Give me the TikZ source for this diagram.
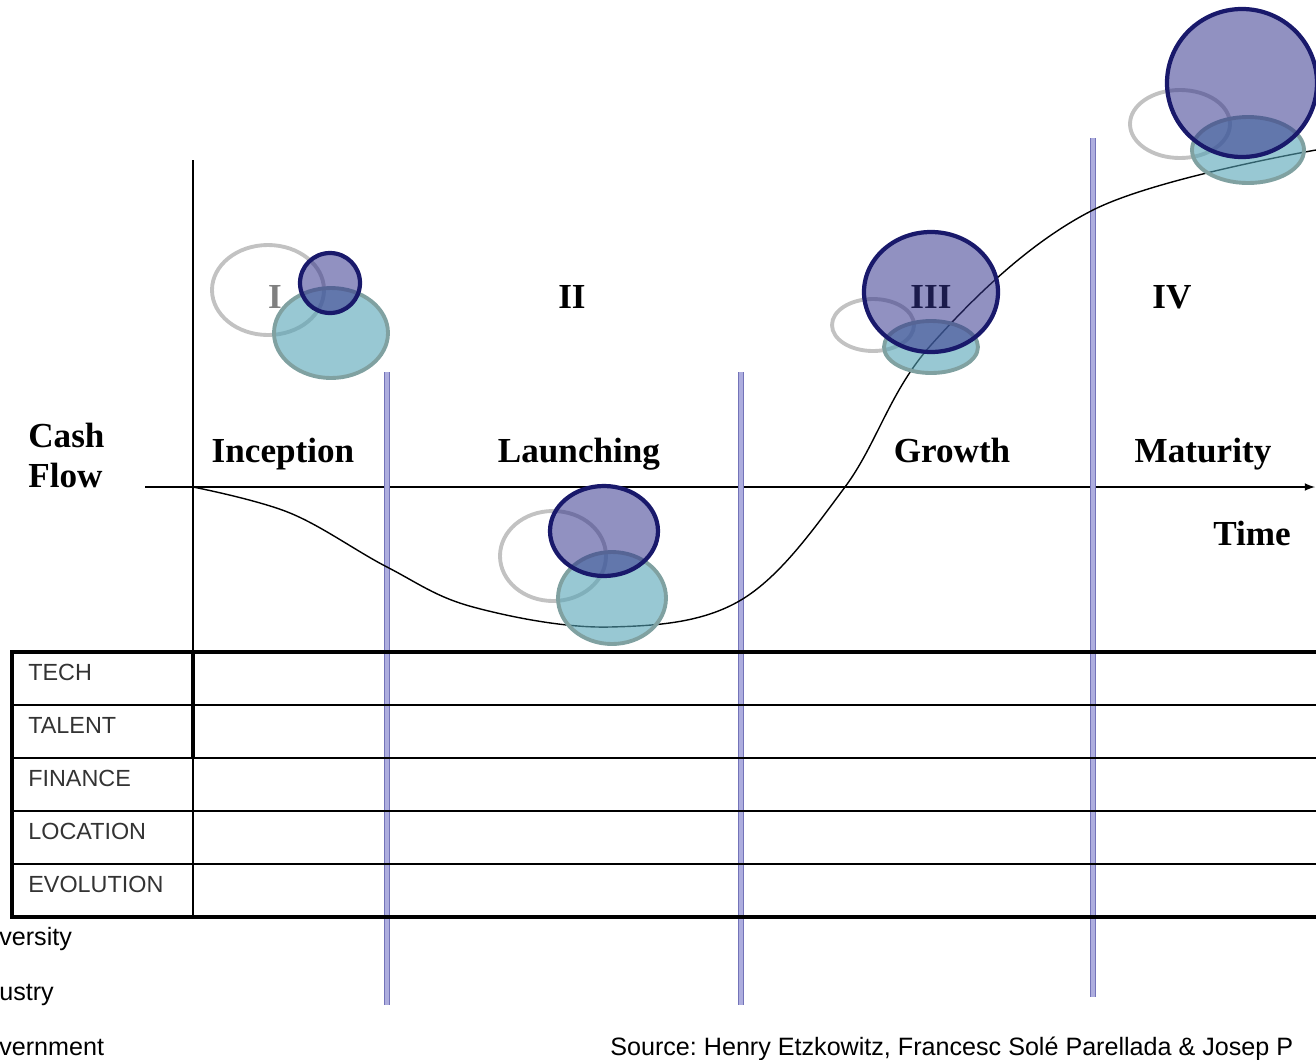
\documentclass[tikz,border=0pt]{standalone}
\usepackage{fontspec}
\setmainfont{Liberation Serif}
\newfontfamily\arialfont{Liberation Sans}
\usepackage{tikz}
\usetikzlibrary{arrows,shapes,positioning}
\definecolor{navy}{rgb}{0.10,0.10,0.42}
\definecolor{lilac}{rgb}{0.20,0.20,0.55}
\definecolor{seafill}{rgb}{0.33,0.64,0.71}
\definecolor{seaedge}{rgb}{0.50,0.63,0.63}
\definecolor{ringgray}{rgb}{0.76,0.76,0.76}
\definecolor{vline}{rgb}{0.45,0.45,0.72}
\definecolor{vfill}{rgb}{0.68,0.68,0.87}
\definecolor{labelgray}{rgb}{0.2,0.2,0.2}
\frenchspacing

\tikzset{
  phase/.style={font=\fontsize{20}{24}\selectfont\bfseries,anchor=base,inner sep=0pt},
  rowlabel/.style={font=\arialfont\fontsize{13.3}{16}\selectfont,text=labelgray,anchor=base west,inner sep=0pt},
  legend/.style={font=\arialfont\fontsize{14.3}{17}\selectfont,anchor=base west,inner sep=0pt},
  stage/.style={draw=vline,line width=0.6pt,double=vfill,double distance=2.4pt},
  uniring/.style={draw=ringgray,line width=2.2pt},
  indring/.style={draw=seaedge,fill=seafill,fill opacity=0.6,line width=2.2pt},
  govring/.style={draw=navy,fill=lilac,fill opacity=0.54,line width=2.4pt}
}

\begin{document}
\begin{tikzpicture}[x=0.02cm,y=-0.02cm]
        \useasboundingbox (0,0) rectangle (1316,1059);
        \clip (0,0) rectangle (1316,1059);
        % axes
        \coordinate (axtop) at (193,160);
        \coordinate (axbot) at (193,652);
        \coordinate (axleft) at (145,487);
        \coordinate (axright) at (1315,487);
        \draw[line width=1pt] (axtop) -- (axbot);
        \draw[-latex,line width=1pt] (axleft) -- (axright);
        % stages
        \draw[stage] (387,372) -- (387,1005);
        \draw[stage] (741,372) -- (741,1005);
        \draw[stage] (1093,138) -- (1093,997);
        % cash flow
        \draw[line width=0.8pt] plot[smooth,tension=0.6] coordinates {(193,487) (290,513) (387,567) (473,607)
          (610,627) (741,600) (845,487) (931,345) (1093,210) (1316,150)};
        % table
        \foreach \y in {705,758,811,864}
          \draw[line width=1.1pt] (12,\y) -- (1330,\y);
        \draw[line width=1.1pt] (193,652) -- (193,917);
        \draw[line width=1.8pt] (193,652) -- (193,757);
        \draw[line width=1.8pt] (12,652) rectangle (1330,917);
        \foreach \lab [count=\i] in {TECH,TALENT,FINANCE,LOCATION,EVOLUTION}
          \node[rowlabel] (row\i) at (28,{680+53*(\i-1)}) {\lab};
        % labels
        \node[phase,anchor=base west] (cash) at (28,447) {Cash};
        \node[phase,anchor=base west] (flow) at (28,487) {Flow};
        \node[phase] (time) at (1252,545) {Time};
        \node[phase] (inception) at (283,462) {Inception};
        \node[phase] (launching) at (579,462) {Launching};
        \node[phase] (growth) at (952,462) {Growth};
        \node[phase] (maturity) at (1203,462) {Maturity};
        \node[phase,text=gray] (one) at (275,308) {I};
        \node[phase] (two) at (572,308) {II};
        \node[phase] (three) at (931,308) {III};
        \node[phase] (four) at (1172,308) {IV};
        % helices
        \draw[uniring] (268,290) ellipse (56 and 45);
        \draw[indring] (331,333) ellipse (57 and 45);
        \draw[govring] (330,283) ellipse (30 and 30);
        \draw[uniring] (553,556) ellipse (53 and 45);
        \draw[indring] (612,598) ellipse (54 and 46);
        \draw[govring] (604,531) ellipse (54 and 45);
        \draw[uniring] (873,325) ellipse (41 and 26);
        \draw[indring] (931,347) ellipse (47 and 26);
        \draw[govring] (931,292) ellipse (67 and 60);
        \draw[uniring] (1180,124) ellipse (50 and 34);
        \draw[indring] (1248,150) ellipse (56 and 33);
        \draw[govring] (1242,83) ellipse (75 and 74);
        % legend and source
        \node[legend] (univ) at (-1,945) {versity};
        \node[legend] (ind) at (-1,1000) {ustry};
        \node[legend] (gov) at (-1,1055) {vernment};
        \node[legend] (source) at (610,1055) {Source: Henry Etzkowitz, Francesc Solé Parellada \& Josep P};
      \end{tikzpicture}
\end{document}
